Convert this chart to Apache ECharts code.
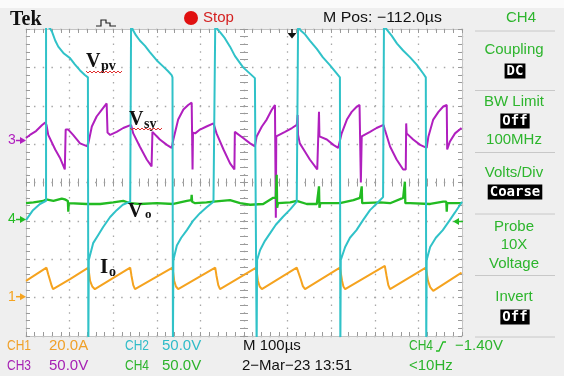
<!DOCTYPE html>
<html><head><meta charset="utf-8">
<script src="https://cdn.jsdelivr.net/npm/echarts@6/dist/echarts.min.js"></script>
<style>html,body{margin:0;padding:0;background:#efefef}#c{width:564px;height:376px}</style>
</head><body><div id="c"></div>
<script>
// ---- time base: 100 us/div, 10 div across the screen ----
const timeRangeUs = [0, 1000];
// ---- channel scales (value range spanning the 8 vertical divisions) ----
const ch1RangeA = [-20, 140];   // CH1 20.0 A/div
const ch2RangeV = [0, 400];     // CH2 50.0 V/div
const ch3RangeV = [-255, 145];  // CH3 50.0 V/div
const ch4RangeV = [-150, 250];  // CH4 50.0 V/div

// ---- CH1 : Io (A) , [time us, amps] ----
const ioAmps = [[0,8.7],[47,15.6],[51,12.2],[59,6.1],[62,4.4],[101,9.6],[143,15.6],[147,8.7],[152,5.8],[158,4.4],
[239,15.6],[242,11.3],[246,6.5],[250,4.4],[336,15.6],[340,8.7],[344,5.8],[349,4.4],[434,15.6],[437,11.3],[441,6.5],[445,4.4],
[528,15.6],[532,8.7],[536,5.8],[541,4.4],[621,15.6],[624,16.5],[630,9.7],[635,6],[640,4.4],[720,15.6],[725,8.7],[728,5.8],[732,4.4],
[823,16.5],[827,11.3],[831,6.5],[835,4.4],[917,15.6],[922,8.7],[927,5.5],[934,3.5],[999,13]];

// ---- CH2 : Vpv (V) ----
const vpvVolts = [[0,151],[16,164],[32,172],[46,176],[46,404],[50,403],[55,401],[60,396],[67,385],[74,377],[87,368],[101,362],[112,354],[124,346],[135,340],[142,337],
[143,-15],[144,99],[154,121],[165,131],[177,142],[193,155],[208,164],[222,171],[239,175],[241,176],
[241,404],[244,402],[246,398],[252,392],[261,385],[273,378],[284,370],[300,359],[315,351],[326,345],[334,340],[336,337],
[337,-15],[338,99],[346,118],[356,128],[369,138],[383,150],[399,160],[415,168],[430,175],[434,176],
[434,404],[437,402],[440,399],[445,396],[456,388],[468,377],[479,365],[498,350],[525,336],[528,335],
[529,-15],[530,99],[537,112],[548,124],[560,134],[573,145],[589,155],[606,165],[621,175],[624,176],
[624,404],[627,402],[630,398],[640,393],[651,385],[667,374],[681,363],[697,353],[713,342],[720,337],
[721,-15],[722,99],[732,116],[743,128],[758,138],[773,151],[789,164],[805,173],[819,181],[821,182],
[821,404],[824,402],[828,399],[839,391],[851,381],[865,372],[881,363],[897,353],[911,342],[917,337],
[918,-15],[919,99],[927,116],[940,128],[956,138],[972,151],[984,161],[998,173],[1000,175]];

// ---- CH3 : Vsy (V) ----
const vsyVolts = [[0,3],[9,7],[23,12],[37,20],[44,23],[47,20],[51,7],[67,-12],[78,-23],[89,-38],[90,-38],[91,14],[97,14],[108,7],[124,-4],[141,-8],
[143,-4],[151,18],[162,31],[174,40],[185,48],[186,48],[187,10],[193,7],[208,11],[223,16],[241,20],
[246,9],[261,-8],[277,-25],[288,-34],[289,-34],[290,11],[292,9],[307,1],[323,-6],[334,-10],
[338,1],[349,27],[361,40],[372,46],[380,49],[381,49],[382,-38],[383,10],[388,9],[399,14],[414,18],[430,22],
[437,9],[453,-12],[468,-30],[478,-38],[479,11],[483,9],[498,3],[514,-4],[525,-8],
[529,5],[541,18],[552,27],[564,40],[571,46],[572,46],[573,-101],[574,5],[578,5],[594,11],[610,16],[621,20],
[623,33],[624,7],[628,-4],[640,-15],[651,-25],[668,-38],[671,-38],[672,37],[673,5],[690,1],[705,-6],[716,-10],
[724,9],[736,27],[747,37],[759,44],[765,46],[767,47],[768,-55],[770,5],[789,11],[804,16],[820,20],
[823,14],[835,-8],[850,-25],[865,-38],[871,-38],[872,22],[873,9],[888,1],[904,-6],[919,-10],
[923,5],[934,27],[946,37],[957,44],[965,46],[966,-12],[972,-2],[984,9],[999,16]];

// ---- CH4 : Vo (V) ----
const voVolts = [[0,23],[17,24],[40,26],[46,28],[47,30],[48,27],[63,26],[82,29],[89,28],[96,26],[97,12],[98,23],[101,23],[139,22],[170,22],
[200,24],[223,26],[239,23],[261,22],[300,23],[338,22],[369,26],[379,27],[380,34],[381,25],[388,23],[414,24],[430,25],
[468,27],[491,23],[514,21],[544,22],[567,30],[573,30],[575,60],[576,17],[578,23],[606,24],[621,26],[644,22],[667,22],
[671,22],[672,45],[673,17],[675,23],[720,23],[751,27],[766,30],[769,30],[770,45],[771,23],[812,24],[835,23],
[865,30],[868,30],[869,51],[870,23],[881,23],[927,22],[957,25],[964,25],[965,12],[966,23],[999,23]];

// ---- screen texts ----
const bottomRow1 = [['CH1','#f0a028'],['20.0A','#f0a028'],['CH2','#2fbcc8'],['50.0V','#2fbcc8'],['M 100\u00b5s','#111'],['CH4','#2cb42c'],['\u22121.40V','#2cb42c']];
const bottomRow2 = [['CH3','#a621b4'],['50.0V','#a621b4'],['CH4','#2cb42c'],['50.0V','#2cb42c'],['2\u2212Mar\u221223 13:51','#111'],['<10Hz','#2cb42c']];
const menuItems = ['Coupling','DC','BW Limit','Off','100MHz','Volts/Div','Coarse','Probe','10X','Voltage','Invert','Off'];

const C1 = '#f5a31f', C2 = '#30c2c8', C3 = '#b01fbe', C4 = '#22bb22', MENU = '#2db52d';

const tickCol = '#9a9a9a';
function gratAxis(extra) {
  return Object.assign({
    type: 'value', axisLabel: {show: false},
    axisTick: {show: true, inside: true, length: 4, lineStyle: {color: tickCol}},
    minorTick: {show: true, splitNumber: 5, length: 4, lineStyle: {color: tickCol}},
    splitLine: {show: false}
  }, extra);
}
const xAxes = [
  gratAxis({min: -5, max: 5, interval: 1, position: 'bottom', axisLine: {show: true, onZero: false, lineStyle: {color: '#c4c4c4'}},
    splitLine: {show: true, lineStyle: {color: '#a8a8a8', width: 1.3, type: [1.5, 6.175], dashOffset: 0.75}}}),
  gratAxis({min: -5, max: 5, interval: 1, position: 'top', axisLine: {show: true, onZero: false, lineStyle: {color: '#c4c4c4'}}}),
  gratAxis({min: -5, max: 5, interval: 1, position: 'bottom', axisLine: {show: false, onZero: true, onZeroAxisIndex: 0}}),
  gratAxis({min: -5, max: 5, interval: 1, position: 'top', axisLine: {show: false, onZero: true, onZeroAxisIndex: 0}}),
  {type: 'value', min: timeRangeUs[0], max: timeRangeUs[1], show: false}
];
const yAxes = [
  gratAxis({min: -4, max: 4, interval: 1, position: 'left', axisLine: {show: true, onZero: false, lineStyle: {color: '#c4c4c4'}},
    splitLine: {show: true, lineStyle: {color: '#a8a8a8', width: 1.3, type: [1.5, 7.22], dashOffset: 0.75}}}),
  gratAxis({min: -4, max: 4, interval: 1, position: 'right', axisLine: {show: true, onZero: false, lineStyle: {color: '#c4c4c4'}}}),
  gratAxis({min: -4, max: 4, interval: 1, position: 'left', axisLine: {show: false, onZero: true, onZeroAxisIndex: 0}}),
  gratAxis({min: -4, max: 4, interval: 1, position: 'right', axisLine: {show: false, onZero: true, onZeroAxisIndex: 0}}),
  {type: 'value', min: ch1RangeA[0], max: ch1RangeA[1], show: false},
  {type: 'value', min: ch2RangeV[0], max: ch2RangeV[1], show: false},
  {type: 'value', min: ch3RangeV[0], max: ch3RangeV[1], show: false},
  {type: 'value', min: ch4RangeV[0], max: ch4RangeV[1], show: false}
];

function trace(name, data, yIdx, color, w) {
  return {name, type: 'line', xAxisIndex: 4, yAxisIndex: yIdx, data, showSymbol: false, symbol: 'none',
    lineStyle: {color, width: w}, silent: true, clip: true, animation: false};
}

const SANS = '"Liberation Sans", Arial, sans-serif';
const SERIF = '"Liberation Serif", "Times New Roman", serif';
function T(x, y, s, fill, font, align, extra) {
  return Object.assign({type: 'text', x, y, z: 100, style: {text: s, fill, font,
    align: align || 'left', verticalAlign: 'middle', textAlign: align || 'left', textVerticalAlign: 'middle'}}, extra || {});
}
function boxT(x, y, s) {
  return {type: 'text', x, y, z: 100, style: {text: s, fill: '#fff', font: 'bold 14px "DejaVu Sans Mono", monospace',
    align: 'center', verticalAlign: 'middle', textAlign: 'center', textVerticalAlign: 'middle',
    backgroundColor: '#000', padding: [1, 2, 0, 2]}};
}
function zig(x0, x1, y) {
  const pts = [];
  for (let x = x0, i = 0; x <= x1; x += 2, i++) pts.push([x, y + (i % 2 ? 2 : 0)]);
  return {type: 'polyline', z: 100, shape: {points: pts}, style: {stroke: '#e03030', lineWidth: 1, fill: null}};
}
function gndMarker(label, y, color) {
  return [
    T(8, y, label, color, '14px ' + SANS),
    {type: 'line', z: 100, shape: {x1: 16, y1: y, x2: 22, y2: y}, style: {stroke: color, lineWidth: 1.5}},
    {type: 'polygon', z: 100, shape: {points: [[20, y - 3.5], [26, y], [20, y + 3.5]]}, style: {fill: color}}
  ];
}

const graphics = [
  {type: 'rect', z: -10, shape: {x: 0, y: 0, width: 564, height: 8}, style: {fill: '#fbfbfb'}},
  T(10, 20, 'Tek', '#111', 'bold 20px ' + SERIF),
  {type: 'polyline', z: 100, shape: {points: [[96, 26], [101, 26], [101, 20], [106, 20], [106, 23], [110, 23], [110, 26], [116, 26]]},
    style: {stroke: '#222', lineWidth: 1.2, fill: null}},
  {type: 'circle', z: 100, shape: {cx: 191, cy: 18, r: 7}, style: {fill: '#e01010'}},
  T(203, 18, 'Stop', '#d42020', '15px ' + SANS),
  T(323, 18, 'M Pos: \u2212112.0\u00b5s', '#111', '15px ' + SANS, 'left', {scaleX: 1.06}),
  T(521, 18, 'CH4', MENU, '15px ' + SANS, 'center'),
  {type: 'line', z: 100, shape: {x1: 475, y1: 31, x2: 555, y2: 31}, style: {stroke: '#c8c8c8', lineWidth: 1}},
  // trigger position arrow
  {type: 'line', z: 100, shape: {x1: 292, y1: 29, x2: 292, y2: 34}, style: {stroke: '#111', lineWidth: 1.5}},
  {type: 'polygon', z: 100, shape: {points: [[287.5, 33], [296.5, 33], [292, 38.5]]}, style: {fill: '#111'}},
  // trigger level arrow
  {type: 'line', z: 100, shape: {x1: 456, y1: 221.5, x2: 463, y2: 221.5}, style: {stroke: C4, lineWidth: 1.5}},
  {type: 'polygon', z: 100, shape: {points: [[453, 221.5], [459, 218], [459, 225]]}, style: {fill: C4}},
  // waveform labels
  T(86, 62, 'V', '#111', 'bold 20px ' + SERIF), T(101, 66, 'pv', '#111', 'bold 14px ' + SERIF), zig(86, 122, 71),
  T(129, 120, 'V', '#111', 'bold 20px ' + SERIF), T(144, 124, 'sy', '#111', 'bold 14px ' + SERIF), zig(130, 163, 128),
  T(128, 212, 'V', '#111', 'bold 20px ' + SERIF), T(145, 215, 'o', '#111', 'bold 13px ' + SERIF),
  T(100, 268, 'I', '#111', 'bold 21px ' + SERIF), T(109, 272, 'o', '#111', 'bold 14px ' + SERIF)
].concat(gndMarker('3', 140.5, C3), gndMarker('4', 219.5, C4), gndMarker('1', 296.7, C1));

// right side menu
const menuY = [50, 71, 102, 121, 140, 173, 192, 227, 245, 264, 297, 317];
const boxed = {1: true, 3: true, 6: true, 11: true};
menuItems.forEach((s, i) => {
  graphics.push(boxed[i] ? boxT(515, menuY[i], s) : T(514, menuY[i], s, MENU, '15px ' + SANS, 'center'));
});
[90.5, 152.5, 214, 275.5, 337].forEach(y => graphics.push({type: 'line', z: 100, shape: {x1: 475, y1: y, x2: 555, y2: y}, style: {stroke: '#c8c8c8', lineWidth: 1}}));

// bottom status rows
const row1X = [7, 49, 125, 162, 243, 409, 455];
const row2X = [7, 49, 125, 162, 242, 409];
function chScale(s) { return s.indexOf('CH') === 0 ? {scaleX: 0.8} : {}; }
bottomRow1.forEach((p, i) => graphics.push(T(row1X[i], 346, p[0], p[1], '15px ' + SANS, 'left', chScale(p[0]))));
bottomRow2.forEach((p, i) => graphics.push(T(row2X[i], 366, p[0], p[1], '15px ' + SANS, 'left', chScale(p[0]))));
graphics.push({type: 'polyline', z: 100, shape: {points: [[436, 351], [439, 351], [443, 342], [446, 342]]}, style: {stroke: C4, lineWidth: 1.3, fill: null}});

const chart = echarts.init(document.getElementById('c'), null, {renderer: 'canvas'});
chart.setOption({
  backgroundColor: '#efefef',
  animation: false,
  grid: {left: 26, top: 29, width: 436, height: 307, show: true, backgroundColor: '#ffffff', borderWidth: 0},
  xAxis: xAxes,
  yAxis: yAxes,
  series: [
    trace('CH3 Vsy', vsyVolts, 6, C3, 2),
    trace('CH1 Io', ioAmps, 4, C1, 2),
    trace('CH4 Vo', voVolts, 7, C4, 2.3),
    trace('CH2 Vpv', vpvVolts, 5, C2, 2)
  ],
  graphic: {elements: graphics}
});
</script></body></html>
